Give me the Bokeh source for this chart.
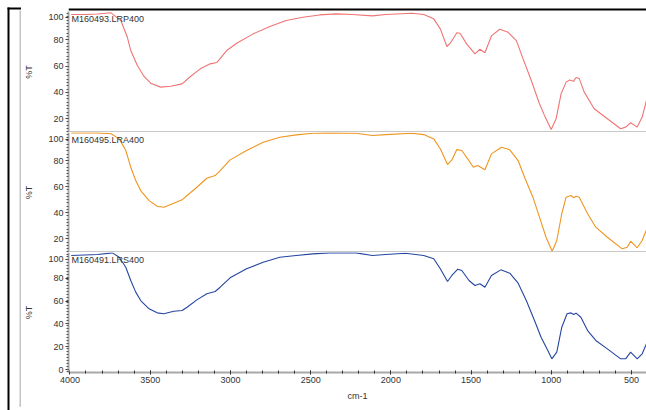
from bokeh.plotting import figure
from bokeh.layouts import column, row
from bokeh.models import Range1d, Span, Label, BoxAnnotation, SingleIntervalTicker, FixedTicker
from bokeh.embed import file_html
from bokeh.resources import INLINE

# ---- data (wavenumber cm-1, %T) ----
wn_lrp = [3992, 3910, 3827, 3744, 3683, 3642, 3621, 3580, 3538, 3497, 3435, 3373, 3301, 3249,
          3188, 3126, 3085, 3023, 2961, 2858, 2754, 2652, 2548, 2445, 2342, 2239, 2115, 2033,
          1868, 1795, 1733, 1692, 1651, 1630, 1589, 1569, 1528, 1476, 1445, 1414, 1372, 1321,
          1269, 1218, 1176, 1125, 1074, 1043, 1001, 970, 939, 908, 885, 862, 846, 826, 795,
          733, 651, 568, 537, 506, 465, 434, 407]
t_lrp = [99.2, 99.2, 99.6, 100.5, 94.6, 81.9, 71.8, 60.4, 52.1, 47.0, 44.0, 44.7, 46.5, 52.1,
         57.9, 61.7, 62.7, 71.8, 77.4, 84.5, 90.1, 94.6, 97.1, 98.9, 99.7, 99.2, 98.2, 99.2,
         100.2, 99.2, 95.9, 88.3, 74.9, 77.4, 85.3, 85.0, 76.9, 69.3, 72.8, 70.1, 83.2, 88.0,
         85.7, 79.4, 65.5, 49.0, 31.4, 22.5, 11.8, 20.0, 39.0, 47.8, 49.4, 48.4, 51.3, 50.5, 40.2,
         27.6, 20.0, 12.4, 13.6, 16.9, 13.6, 21.2, 33.9]

wn_lra = [3992, 3827, 3744, 3693, 3652, 3621, 3590, 3559, 3507, 3456, 3415, 3353, 3301, 3270,
          3209, 3147, 3095, 3064, 3002, 2899, 2796, 2692, 2590, 2486, 2383, 2218, 2115, 2033,
          1868, 1795, 1733, 1692, 1647, 1620, 1589, 1558, 1517, 1486, 1459, 1414, 1373, 1311,
          1259, 1207, 1167, 1115, 1074, 1033, 995, 966, 935, 908, 877, 862, 846, 826, 774,
          723, 651, 558, 527, 506, 465, 434, 407]
t_lra = [101.2, 101.2, 100.5, 96.6, 87.7, 74.9, 64.7, 57.0, 49.3, 45.0, 44.2, 47.3, 49.9, 53.2,
         59.5, 66.4, 68.5, 72.3, 80.5, 87.7, 94.0, 97.9, 99.7, 100.9, 101.2, 100.9, 99.2, 99.9,
         100.9, 99.9, 96.6, 89.0, 76.9, 80.5, 88.4, 87.7, 80.5, 74.9, 76.2, 72.9, 85.1, 90.2,
         88.2, 80.0, 67.2, 51.9, 36.6, 21.2, 10.5, 18.7, 39.2, 51.9, 53.2, 51.5, 52.6, 51.9, 39.2,
         28.9, 21.2, 12.3, 13.6, 18.2, 13.1, 18.7, 26.9]

wn_lrs = [3992, 3827, 3735, 3693, 3652, 3621, 3590, 3559, 3507, 3456, 3415, 3353, 3301, 3270,
          3209, 3147, 3095, 3064, 3002, 2899, 2796, 2692, 2590, 2486, 2383, 2218, 2115, 2033,
          1909, 1795, 1733, 1692, 1647, 1620, 1583, 1558, 1513, 1476, 1445, 1414, 1373, 1315,
          1259, 1207, 1156, 1105, 1064, 1022, 997, 966, 935, 902, 877, 862, 846, 816, 774,
          723, 651, 568, 537, 506, 465, 434, 407]
t_lrs = [99.6, 100.4, 101.9, 98.1, 89.4, 77.8, 67.7, 60.4, 53.2, 49.7, 48.9, 51.1, 51.7, 54.6,
         61.0, 66.3, 68.3, 72.0, 80.2, 88.0, 93.7, 98.1, 99.6, 101.0, 101.9, 101.9, 99.6, 100.4,
         101.6, 99.6, 96.7, 88.0, 77.0, 82.2, 87.7, 86.5, 77.8, 73.5, 75.0, 72.0, 82.2, 87.1,
         84.2, 75.5, 60.4, 43.0, 28.5, 17.0, 9.7, 15.5, 37.2, 48.9, 49.7, 48.3, 49.4, 45.9, 34.3,
         25.7, 18.4, 9.7, 9.7, 15.5, 9.7, 14.1, 22.8]

names = ["M160493.LRP400", "M160495.LRA400", "M160491.LRS400"]
colors = ["#EF7474", "#F0951F", "#2446A2"]
y_ranges = [(9.5, 101.5), (9.5, 101.5), (-2.2, 102.2)]
y_ticks = [[20, 40, 60, 80], [20, 40, 60, 80], [0, 20, 40, 60, 80]]
y_top_label = "100"
x_start, x_end = 4009, 407
y_title = "%T"
x_title = "cm-1"

FONT = "Liberation Sans"
TXT = "#333333"
AXIS_GREY = "#a8a8a8"
SEP_GREY = "#c8c8c8"


def deco(w, h):
    d = figure(width=w, height=h, x_range=Range1d(0, w), y_range=Range1d(h, 0),
               output_backend="svg", toolbar_location=None,
               x_axis_location=None, y_axis_location=None,
               min_border_left=0, min_border_right=0, min_border_top=0, min_border_bottom=0)
    d.outline_line_color = None
    d.grid.visible = False
    return d


def panel(wn, t, name, color, yr, ticks, height, show_x, top_tick_pos):
    p = figure(width=625, height=height,
               x_range=Range1d(x_start, x_end), y_range=Range1d(*yr),
               output_backend="svg", toolbar_location=None,
               x_axis_location="below" if show_x else None,
               min_border_left=43, min_border_right=0, min_border_top=0,
               min_border_bottom=32 if show_x else 0)
    p.outline_line_color = None
    p.grid.visible = False
    p.background_fill_color = "white"
    p.border_fill_color = "white"
    p.line(wn, t, line_color=color, line_width=1.1)

    ya = p.yaxis[0]
    # the top "100" tick sits a little below 100 in the reference, so it stays inside the panel
    minor = [yr[0] + 0.5 + 2.5 * i for i in range(int((yr[1] - yr[0]) / 2.5) + 1)]
    ya.ticker = FixedTicker(ticks=ticks + [top_tick_pos], minor_ticks=minor)
    ya.major_label_overrides = {top_tick_pos: y_top_label}
    ya.axis_line_color = AXIS_GREY
    ya.axis_line_width = 2
    ya.major_tick_line_color = TXT
    ya.major_tick_out = 3
    ya.major_tick_in = 0
    ya.minor_tick_line_color = "#555555"
    ya.minor_tick_out = 2
    ya.minor_tick_in = 0
    ya.major_label_standoff = 2
    ya.major_label_text_font = FONT
    ya.major_label_text_font_size = "9px"
    ya.major_label_text_color = TXT
    ya.axis_label = y_title
    ya.axis_label_text_font = FONT
    ya.axis_label_text_font_size = "9px"
    ya.axis_label_text_font_style = "normal"
    ya.axis_label_text_color = TXT
    ya.axis_label_standoff = 11

    # series name
    p.add_layout(Label(x=x_start, y=yr[1], text=name, text_align="left", text_baseline="top",
                       x_offset=3, y_offset=-2.5, text_font=FONT, text_font_size="9px",
                       text_color=TXT))
    # separator line below panel
    if not show_x:
        p.add_layout(Span(location=yr[0], dimension="width", line_color=SEP_GREY, line_width=3))

    if show_x:
        xa = p.xaxis[0]
        xa.ticker = SingleIntervalTicker(interval=500, num_minor_ticks=5)
        xa.axis_line_color = AXIS_GREY
        xa.axis_line_width = 2
        xa.major_tick_line_color = TXT
        xa.major_tick_in = 2
        xa.major_tick_out = 2
        xa.minor_tick_line_color = TXT
        xa.minor_tick_in = 2
        xa.minor_tick_out = 1
        xa.major_label_standoff = 2
        xa.major_label_text_font = FONT
        xa.major_label_text_font_size = "9px"
        xa.major_label_text_color = TXT
        xa.axis_label = x_title
        xa.axis_label_text_font = FONT
        xa.axis_label_text_font_size = "9px"
        xa.axis_label_text_font_style = "normal"
        xa.axis_label_text_color = TXT
        xa.axis_label_standoff = 5
    return p


p1 = panel(wn_lrp, t_lrp, names[0], colors[0], y_ranges[0], y_ticks[0], 121, False, 97.1)
p2 = panel(wn_lra, t_lra, names[1], colors[1], y_ranges[1], y_ticks[1], 120, False, 96.3)
p3 = panel(wn_lrs, t_lrs, names[2], colors[2], y_ranges[2], y_ticks[2], 152, True, 96.5)

left = deco(21, 410)
left.add_layout(BoxAnnotation(left=7, right=9, top=7, bottom=410, fill_color="black",
                              fill_alpha=1, line_color=None))
left.add_layout(BoxAnnotation(left=7, right=21, top=7, bottom=9, fill_color="black",
                              fill_alpha=1, line_color=None))
left.add_layout(BoxAnnotation(left=19, right=21, top=10, bottom=406, fill_color="#c4c4c4",
                              fill_alpha=1, line_color=None))
left.add_layout(BoxAnnotation(left=19, right=21, top=404, bottom=406, fill_color="#c4c4c4",
                              fill_alpha=1, line_color=None))

top = deco(625, 11)
top.add_layout(BoxAnnotation(left=0, right=625, top=7, bottom=9, fill_color="black",
                             fill_alpha=1, line_color=None))
top.add_layout(BoxAnnotation(left=0, right=625, top=10, bottom=11, fill_color=SEP_GREY,
                             fill_alpha=1, line_color=None))

bottom = deco(625, 6)
bottom.add_layout(BoxAnnotation(left=0, right=625, top=0, bottom=2, fill_color="#c4c4c4",
                                fill_alpha=1, line_color=None))

layout = row(left, column(top, p1, p2, p3, bottom, spacing=0), spacing=0)

open("out.html", "w").write(file_html(layout, INLINE))
